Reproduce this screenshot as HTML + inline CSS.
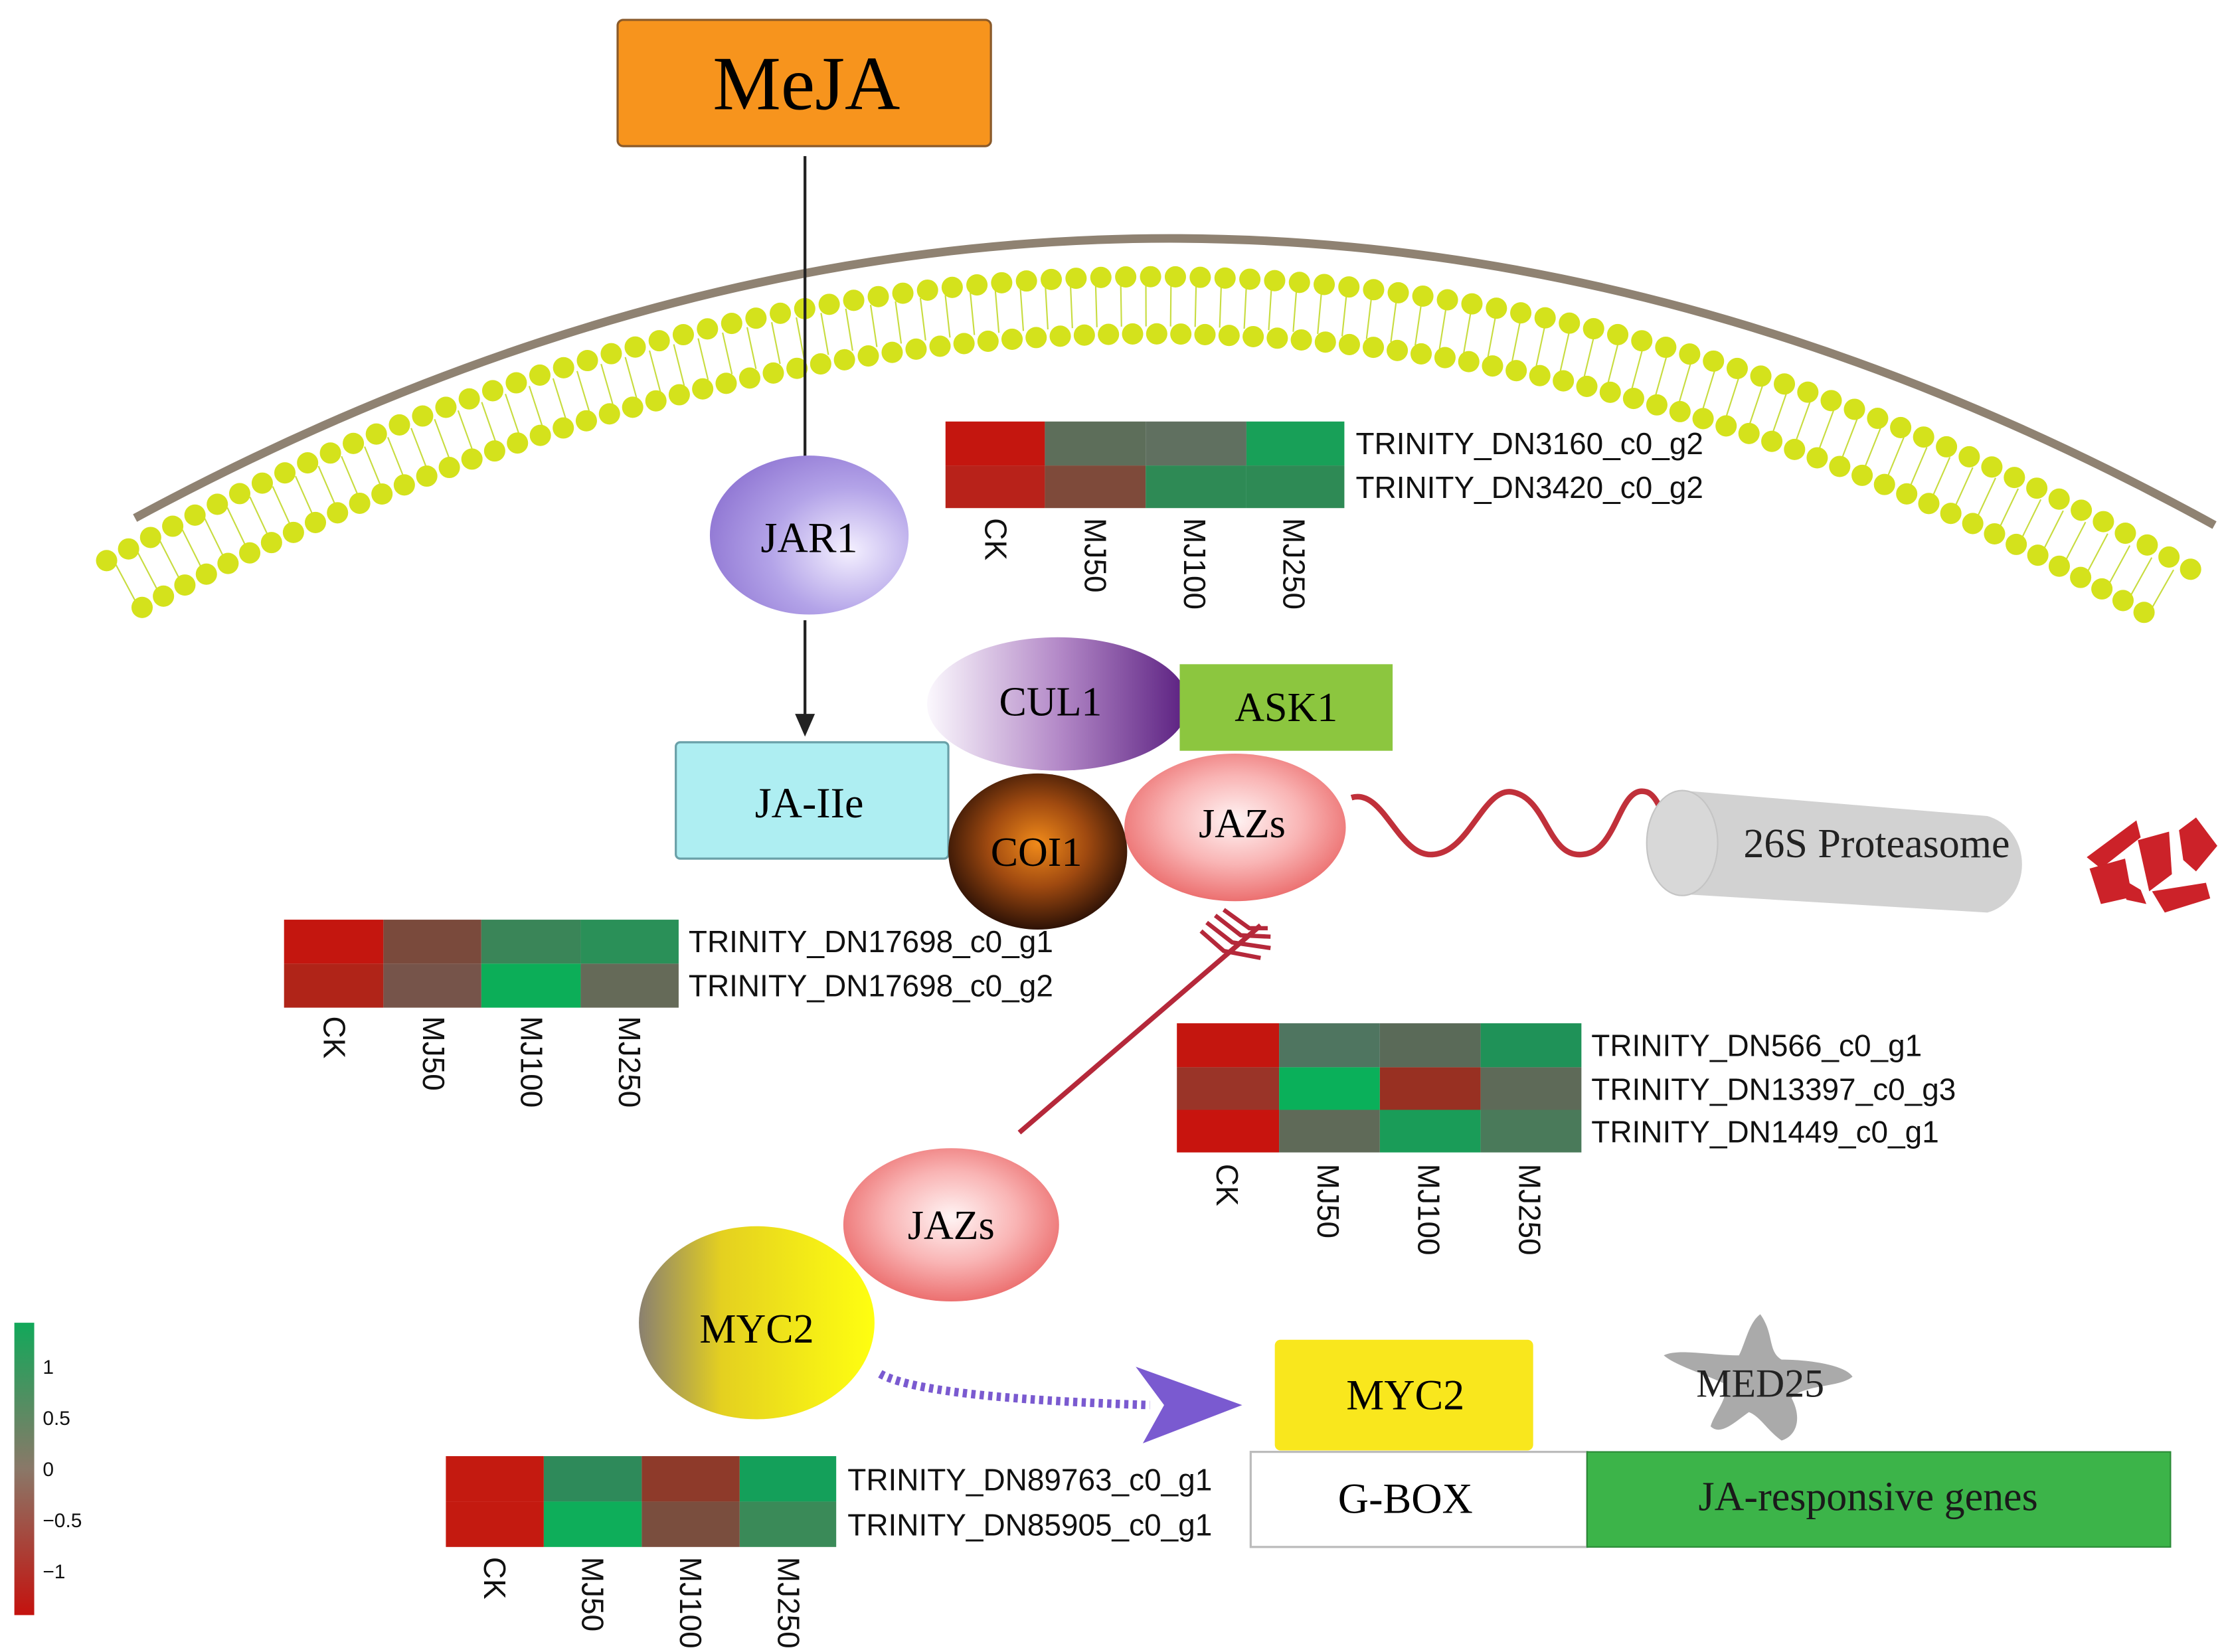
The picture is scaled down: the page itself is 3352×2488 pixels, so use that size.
<!DOCTYPE html>
<html><head><meta charset="utf-8"><style>html,body{margin:0;padding:0;background:#fff}svg{display:block}</style></head><body>
<svg width="3352" height="2488" viewBox="0 0 1568 1164" xmlns="http://www.w3.org/2000/svg">
<defs>
<radialGradient id="jar" cx="0.7" cy="0.6" r="0.8"><stop offset="0" stop-color="#f4f0ff"/><stop offset="0.5" stop-color="#b3a3e8"/><stop offset="1" stop-color="#8a6fd0"/></radialGradient>
<linearGradient id="cul" x1="0" x2="1"><stop offset="0" stop-color="#fbf8fd"/><stop offset="0.5" stop-color="#b48ac8"/><stop offset="1" stop-color="#5a1f80"/></linearGradient>
<radialGradient id="coi" cx="0.5" cy="0.45" r="0.55"><stop offset="0" stop-color="#f08a1a"/><stop offset="0.5" stop-color="#a04a10"/><stop offset="1" stop-color="#2e1206"/></radialGradient>
<radialGradient id="jaz" cx="0.5" cy="0.45" r="0.55"><stop offset="0" stop-color="#fff4f4"/><stop offset="0.55" stop-color="#f9b4b4"/><stop offset="1" stop-color="#ec7070"/></radialGradient>
<linearGradient id="myc" x1="0" x2="1"><stop offset="0" stop-color="#8a8070"/><stop offset="0.35" stop-color="#e4d020"/><stop offset="1" stop-color="#ffff10"/></linearGradient>
<linearGradient id="leg" x1="0" y1="0" x2="0" y2="1"><stop offset="0" stop-color="#12a85a"/><stop offset="0.5" stop-color="#8a7868"/><stop offset="1" stop-color="#c4120e"/></linearGradient>
</defs>
<!-- membrane -->
<path d="M95,365 Q830,-31.5 1560,370" fill="none" stroke="#8f8272" stroke-width="6"/>
<path d="M88,411 Q830,14 1535,421" fill="none" stroke="#c8dc40" stroke-width="30" stroke-dasharray="1 16.5"/>
<path d="M75,395 Q830,-10 1550,405" fill="none" stroke="#d4e21c" stroke-width="15" stroke-linecap="round" stroke-dasharray="0 17.5"/>
<path d="M100,428 Q830,38 1520,437" fill="none" stroke="#d4e21c" stroke-width="15" stroke-linecap="round" stroke-dasharray="0 17"/>
<!-- MeJA -->
<rect x="435" y="14" width="263" height="89" rx="4" fill="#f7941d" stroke="#8a5a2a" stroke-width="1.5"/>
<text x="568" y="77" text-anchor="middle" font-family="Liberation Serif,serif" font-size="54">MeJA</text>
<line x1="567" y1="110" x2="567" y2="322" stroke="#222" stroke-width="2"/>
<ellipse cx="570" cy="377" rx="70" ry="56" fill="url(#jar)"/>
<text x="570" y="389" text-anchor="middle" font-family="Liberation Serif,serif" font-size="30">JAR1</text>
<line x1="567" y1="437" x2="567" y2="508" stroke="#222" stroke-width="2"/>
<path d="M560,503 L567,519 L574,503 Z" fill="#222"/>
<rect x="476" y="523" width="192" height="82" rx="3" fill="#aeeef2" stroke="#6aa0a8" stroke-width="1.5"/>
<text x="570" y="576" text-anchor="middle" font-family="Liberation Serif,serif" font-size="30">JA-IIe</text>
<ellipse cx="745" cy="496" rx="92" ry="47" fill="url(#cul)"/>
<text x="740" y="504" text-anchor="middle" font-family="Liberation Serif,serif" font-size="29">CUL1</text>
<rect x="831" y="468" width="150" height="61" fill="#8cc63f"/>
<text x="906" y="508" text-anchor="middle" font-family="Liberation Serif,serif" font-size="29">ASK1</text>
<ellipse cx="731" cy="600" rx="63" ry="55" fill="url(#coi)"/>
<text x="730" y="610" text-anchor="middle" font-family="Liberation Serif,serif" font-size="29">COI1</text>
<ellipse cx="870" cy="583" rx="78" ry="52" fill="url(#jaz)"/>
<text x="875" y="590" text-anchor="middle" font-family="Liberation Serif,serif" font-size="29">JAZs</text>
<path d="M952,562 C975,555 985,605 1010,602 C1035,600 1045,555 1065,558 C1090,562 1090,605 1115,602 C1140,600 1140,552 1160,558 C1172,562 1175,595 1182,600" fill="none" stroke="#c0303a" stroke-width="4"/>
<!-- proteasome -->
<path d="M1185,557 L1400,575 A32,35 0 0 1 1400,643 L1185,630 A25,37 0 0 1 1185,557 Z" fill="#d2d2d2"/>
<ellipse cx="1185" cy="594" rx="25" ry="37" fill="#d8d8d8" stroke="#c4c4c4" stroke-width="1"/>
<text x="1322" y="604" text-anchor="middle" font-family="Liberation Serif,serif" font-size="29" fill="#222">26S Proteasome</text>
<g fill="#cc2229">
<path d="M1470,604 L1505,578 L1508,590 L1480,612 Z"/><path d="M1472,612 L1497,605 L1502,632 L1480,637 Z"/>
<path d="M1506,592 L1528,586 L1530,616 L1514,628 Z"/><path d="M1535,585 L1547,576 L1562,596 L1547,614 L1538,606 Z"/>
<path d="M1493,618 L1508,627 L1512,637 L1498,634 Z"/><path d="M1516,628 L1554,622 L1557,633 L1525,643 Z"/>
</g>
<!-- red feathered arrow -->
<line x1="718" y1="798" x2="888" y2="652" stroke="#b5283a" stroke-width="3.5"/>
<g stroke="#b5283a" stroke-width="3" fill="none">
<path d="M850,650 L868,664 L895,668"/><path d="M856,645 L874,659 L895,660"/><path d="M862,641 L880,654 L893,654"/><path d="M846,656 L862,670 L888,675"/>
</g>
<ellipse cx="670" cy="863" rx="76" ry="54" fill="url(#jaz)"/>
<text x="670" y="873" text-anchor="middle" font-family="Liberation Serif,serif" font-size="29">JAZs</text>
<ellipse cx="533" cy="932" rx="83" ry="68" fill="url(#myc)"/>
<text x="533" y="946" text-anchor="middle" font-family="Liberation Serif,serif" font-size="29">MYC2</text>
<path d="M620,968 Q650,985 810,990" fill="none" stroke="#7a5ad0" stroke-width="6" stroke-dasharray="3 3"/>
<path d="M800,963 L875,990 L805,1017 L820,990 Z" fill="#7a5ad0"/>
<rect x="898" y="944" width="182" height="78" rx="4" fill="#f9e71d"/>
<text x="990" y="993" text-anchor="middle" font-family="Liberation Serif,serif" font-size="30">MYC2</text>
<path d="M1240,926 C1250,940 1245,952 1255,958 C1275,958 1300,962 1305,970 C1295,978 1272,975 1262,985 C1270,1000 1265,1012 1255,1015 C1245,1008 1240,998 1232,995 C1222,1002 1212,1012 1205,1005 C1208,995 1218,985 1215,975 C1200,968 1180,962 1172,955 C1182,950 1205,955 1225,955 C1230,945 1232,932 1240,926 Z" fill="#aaaaaa"/>
<text x="1240" y="984" text-anchor="middle" font-family="Liberation Serif,serif" font-size="28" fill="#222">MED25</text>
<rect x="881" y="1023" width="237" height="67" fill="#fff" stroke="#bbb" stroke-width="1.5"/>
<text x="990" y="1066" text-anchor="middle" font-family="Liberation Serif,serif" font-size="30">G-BOX</text>
<rect x="1118" y="1023" width="411" height="67" fill="#3cb449" stroke="#2a8a36" stroke-width="1"/>
<text x="1316" y="1064" text-anchor="middle" font-family="Liberation Serif,serif" font-size="29" fill="#1a1a1a">JA-responsive genes</text>
<g font-family="Liberation Sans,sans-serif" font-size="21.5" fill="#111">
<!-- HM1 -->
<rect x="666" y="297" width="70" height="31" fill="#c4160f"/><rect x="736" y="297" width="71" height="31" fill="#5d6e5a"/><rect x="807" y="297" width="71" height="31" fill="#607060"/><rect x="878" y="297" width="69" height="31" fill="#18a058"/>
<rect x="666" y="328" width="70" height="30" fill="#b8221a"/><rect x="736" y="328" width="71" height="30" fill="#7e4a3a"/><rect x="807" y="328" width="71" height="30" fill="#2e8a55"/><rect x="878" y="328" width="69" height="30" fill="#2e8a55"/>
<text x="955" y="320">TRINITY_DN3160_c0_g2</text><text x="955" y="351">TRINITY_DN3420_c0_g2</text>
<text transform="translate(694,365) rotate(90)">CK</text><text transform="translate(764,365) rotate(90)">MJ50</text><text transform="translate(834,365) rotate(90)">MJ100</text><text transform="translate(904,365) rotate(90)">MJ250</text>
<!-- HM2 -->
<rect x="200" y="648" width="70" height="31" fill="#c4160f"/><rect x="270" y="648" width="69" height="31" fill="#7a4a3c"/><rect x="339" y="648" width="70" height="31" fill="#3a8558"/><rect x="409" y="648" width="69" height="31" fill="#2a9058"/>
<rect x="200" y="679" width="70" height="31" fill="#b02418"/><rect x="270" y="679" width="69" height="31" fill="#76544a"/><rect x="339" y="679" width="70" height="31" fill="#0cae58"/><rect x="409" y="679" width="69" height="31" fill="#656a58"/>
<text x="485" y="671">TRINITY_DN17698_c0_g1</text><text x="485" y="702">TRINITY_DN17698_c0_g2</text>
<text transform="translate(228,716) rotate(90)">CK</text><text transform="translate(298,716) rotate(90)">MJ50</text><text transform="translate(367,716) rotate(90)">MJ100</text><text transform="translate(436,716) rotate(90)">MJ250</text>
<!-- HM3 -->
<rect x="829" y="721" width="72" height="31" fill="#c4160f"/><rect x="901" y="721" width="71" height="31" fill="#4f7560"/><rect x="972" y="721" width="71" height="31" fill="#5a6a58"/><rect x="1043" y="721" width="71" height="31" fill="#1f9258"/>
<rect x="829" y="752" width="72" height="30" fill="#9a3428"/><rect x="901" y="752" width="71" height="30" fill="#0ab05a"/><rect x="972" y="752" width="71" height="30" fill="#983022"/><rect x="1043" y="752" width="71" height="30" fill="#5e6a58"/>
<rect x="829" y="782" width="72" height="30" fill="#c8140e"/><rect x="901" y="782" width="71" height="30" fill="#5f6a58"/><rect x="972" y="782" width="71" height="30" fill="#1a9c58"/><rect x="1043" y="782" width="71" height="30" fill="#4a7a5a"/>
<text x="1121" y="744">TRINITY_DN566_c0_g1</text><text x="1121" y="775">TRINITY_DN13397_c0_g3</text><text x="1121" y="805">TRINITY_DN1449_c0_g1</text>
<text transform="translate(857,820) rotate(90)">CK</text><text transform="translate(928,820) rotate(90)">MJ50</text><text transform="translate(999,820) rotate(90)">MJ100</text><text transform="translate(1070,820) rotate(90)">MJ250</text>
<!-- HM4 -->
<rect x="314" y="1026" width="69" height="32" fill="#c41a10"/><rect x="383" y="1026" width="69" height="32" fill="#2e8a5a"/><rect x="452" y="1026" width="69" height="32" fill="#8e3a2a"/><rect x="521" y="1026" width="68" height="32" fill="#14a05a"/>
<rect x="314" y="1058" width="69" height="32" fill="#c41a10"/><rect x="383" y="1058" width="69" height="32" fill="#0eae5a"/><rect x="452" y="1058" width="69" height="32" fill="#7a4e3e"/><rect x="521" y="1058" width="68" height="32" fill="#3a8a58"/>
<text x="597" y="1050">TRINITY_DN89763_c0_g1</text><text x="597" y="1082">TRINITY_DN85905_c0_g1</text>
<text transform="translate(341,1097) rotate(90)">CK</text><text transform="translate(410,1097) rotate(90)">MJ50</text><text transform="translate(479,1097) rotate(90)">MJ100</text><text transform="translate(548,1097) rotate(90)">MJ250</text>
</g>
<!-- legend -->
<rect x="10" y="932" width="14" height="206" fill="url(#leg)"/>
<g font-family="Liberation Sans,sans-serif" font-size="14" fill="#111">
<text x="30" y="968">1</text><text x="30" y="1004">0.5</text><text x="30" y="1040">0</text><text x="30" y="1076">−0.5</text><text x="30" y="1112">−1</text>
</g>
</svg>
</body></html>
